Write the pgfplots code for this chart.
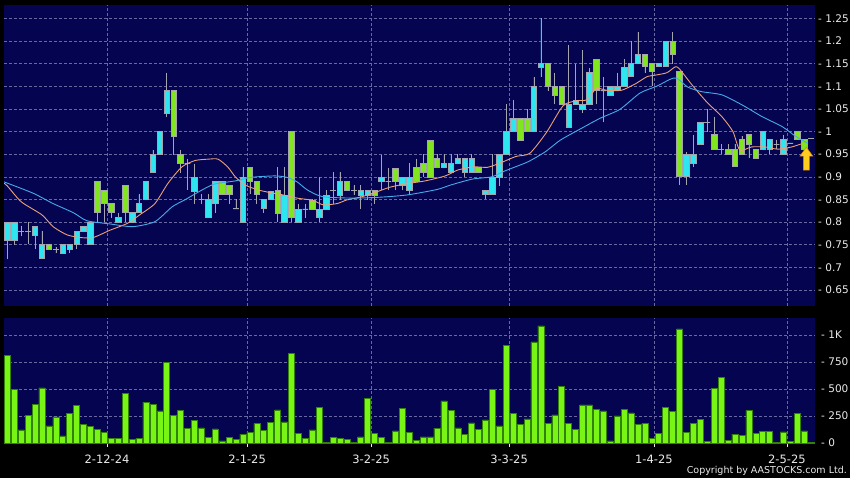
\documentclass[border=0pt]{standalone}
\usepackage{pgfplots}
\pgfplotsset{compat=1.18}
\usepackage{pgfplotstable}
\usepgfplotslibrary{statistics}
\usepackage{fontspec}
\setmainfont{DejaVu Sans}

\definecolor{navy}{RGB}{4,4,80}
\definecolor{gridc}{RGB}{105,105,160}
\definecolor{candleup}{RGB}{45,230,240}
\definecolor{candledown}{RGB}{130,230,30}
\definecolor{wickc}{RGB}{165,165,175}
\definecolor{volc}{RGB}{120,245,20}
\definecolor{voledge}{RGB}{50,130,10}
\definecolor{maorange}{RGB}{235,160,120}
\definecolor{mablue}{RGB}{70,170,235}
\definecolor{arrowfill}{RGB}{255,205,30}
\definecolor{arrowedge}{RGB}{215,135,0}
\definecolor{lbl}{RGB}{235,235,235}

\pgfdeclareplotmark{uparrow}{%
  \pgfpathmoveto{\pgfqpoint{0bp}{11.5bp}}%
  \pgfpathlineto{\pgfqpoint{6.5bp}{2.5bp}}%
  \pgfpathlineto{\pgfqpoint{3bp}{2.5bp}}%
  \pgfpathlineto{\pgfqpoint{3bp}{-11.5bp}}%
  \pgfpathlineto{\pgfqpoint{-3bp}{-11.5bp}}%
  \pgfpathlineto{\pgfqpoint{-3bp}{2.5bp}}%
  \pgfpathlineto{\pgfqpoint{-6.5bp}{2.5bp}}%
  \pgfpathclose
  \pgfusepathqfillstroke
}

\pgfplotstableread{
i o h l c v
0 0.760 0.800 0.718 0.800 811
1 0.760 0.800 0.750 0.800 499
2 0.780 0.792 0.770 0.780 122
3 0.780 0.800 0.751 0.780 257
4 0.771 0.791 0.740 0.791 361
5 0.721 0.780 0.721 0.751 511
6 0.751 0.751 0.740 0.740 159
7 0.740 0.746 0.731 0.740 242
8 0.731 0.751 0.731 0.751 67
9 0.740 0.751 0.731 0.751 272
10 0.751 0.780 0.740 0.780 346
11 0.780 0.790 0.780 0.790 171
12 0.751 0.800 0.751 0.800 153
13 0.890 0.890 0.800 0.821 129
14 0.870 0.870 0.800 0.841 101
15 0.841 0.841 0.810 0.821 46
16 0.800 0.821 0.800 0.810 40
17 0.881 0.881 0.800 0.821 462
18 0.800 0.821 0.800 0.821 34
19 0.821 0.861 0.821 0.841 43
20 0.850 0.890 0.850 0.890 379
21 0.909 0.960 0.909 0.949 358
22 0.949 1.002 0.949 1.000 297
23 1.040 1.130 1.031 1.090 744
24 1.090 1.090 0.949 0.990 254
25 0.949 0.960 0.909 0.929 303
26 0.930 0.940 0.871 0.930 138
27 0.869 0.929 0.841 0.900 208
28 0.850 0.861 0.841 0.850 141
29 0.810 0.861 0.810 0.850 55
30 0.841 0.890 0.821 0.890 132
31 0.890 0.890 0.861 0.861 21
32 0.881 0.881 0.841 0.861 52
33 0.830 0.850 0.830 0.830 31
34 0.800 0.921 0.800 0.900 83
35 0.921 0.921 0.861 0.890 98
36 0.890 0.890 0.841 0.861 181
37 0.830 0.850 0.821 0.850 119
38 0.850 0.869 0.850 0.869 193
39 0.870 0.921 0.800 0.820 306
40 0.800 0.921 0.800 0.860 196
41 1.000 1.000 0.800 0.810 832
42 0.800 0.840 0.800 0.829 86
43 0.829 0.840 0.810 0.829 43
44 0.849 0.850 0.829 0.829 122
45 0.810 0.900 0.800 0.829 330
46 0.829 0.870 0.829 0.860 3
47 0.870 0.910 0.840 0.870 55
48 0.860 0.910 0.849 0.890 40
49 0.890 0.890 0.870 0.870 34
50 0.870 0.881 0.860 0.870 9
51 0.860 0.881 0.829 0.870 58
52 0.860 0.870 0.849 0.870 413
53 0.870 0.870 0.840 0.860 86
54 0.890 0.949 0.870 0.899 49
55 0.890 0.920 0.870 0.890 6
56 0.919 0.919 0.870 0.890 113
57 0.881 0.899 0.870 0.899 321
58 0.871 0.930 0.860 0.900 98
59 0.921 0.940 0.890 0.890 24
60 0.930 0.950 0.900 0.910 58
61 0.981 0.981 0.900 0.900 58
62 0.940 0.950 0.921 0.921 138
63 0.921 0.950 0.921 0.930 389
64 0.910 0.950 0.910 0.930 303
65 0.930 0.950 0.930 0.940 141
66 0.910 0.940 0.900 0.940 80
67 0.910 0.950 0.910 0.940 187
68 0.920 0.920 0.910 0.910 129
69 0.861 0.871 0.850 0.871 214
70 0.861 0.950 0.861 0.900 499
71 0.900 0.950 0.880 0.950 159
72 0.950 1.060 0.950 1.000 903
73 1.000 1.070 1.000 1.030 272
74 1.030 1.030 0.980 0.980 171
75 1.030 1.050 1.000 1.000 223
76 1.000 1.120 1.000 1.100 936
77 1.141 1.250 1.120 1.151 1083
78 1.151 1.151 1.090 1.100 181
79 1.100 1.130 1.060 1.080 260
80 1.100 1.100 1.060 1.060 526
81 1.010 1.190 1.010 1.060 184
82 1.060 1.150 1.060 1.070 129
83 1.050 1.180 1.040 1.060 352
84 1.060 1.140 1.060 1.130 352
85 1.160 1.160 1.060 1.090 309
86 1.090 1.120 1.020 1.090 297
87 1.080 1.100 1.080 1.100 21
88 1.090 1.130 1.090 1.100 251
89 1.100 1.160 1.100 1.141 312
90 1.123 1.200 1.123 1.151 278
91 1.151 1.220 1.151 1.170 174
92 1.170 1.170 1.130 1.143 184
93 1.151 1.151 1.100 1.132 43
94 1.143 1.151 1.143 1.151 92
95 1.143 1.200 1.143 1.200 330
96 1.200 1.220 1.150 1.170 291
97 1.132 1.132 0.882 0.902 1056
98 0.902 0.955 0.882 0.950 101
99 0.930 0.993 0.921 0.950 181
100 0.972 1.020 0.972 1.020 220
101 1.020 1.050 1.000 1.020 15
102 0.993 1.033 0.961 0.961 505
103 0.961 0.972 0.950 0.961 609
104 0.961 0.972 0.950 0.950 24
105 0.961 0.972 0.923 0.923 83
106 0.982 0.990 0.950 0.950 70
107 0.993 0.993 0.941 0.972 303
108 0.961 0.961 0.941 0.941 89
109 0.961 1.000 0.961 1.000 110
110 0.961 0.982 0.950 0.982 110
111 0.972 0.982 0.961 0.972 9
112 0.950 0.993 0.950 0.982 104
113 0.975 0.975 0.975 0.975 18
114 1.000 1.000 0.982 0.982 272
115 0.982 0.982 0.961 0.961 113
116 0.985 0.985 0.985 0.985 6
}\ohlc

\begin{document}
\begin{tikzpicture}[x=1bp,y=1bp]
\fill[black] (0,0) rectangle (850,478);

\begin{axis}[
  at={(4bp,172bp)}, anchor=south west, scale only axis,
  width=811bp, height=301bp,
  xmin=-0.476, xmax=116.55, ymin=0.6148, ymax=1.2794,
  axis background/.style={fill=navy},
  axis line style={draw=none},
  boxplot/draw direction=y,
  ytick={0.65,0.7,0.75,0.8,0.85,0.9,0.95,1,1.05,1.1,1.15,1.2,1.25},
  yticklabels={- 0.65,- 0.7,- 0.75,- 0.8,- 0.85,- 0.9,- 0.95,- 1,- 1.05,- 1.1,- 1.15,- 1.2,- 1.25},
  ytick pos=right, yticklabel pos=right,
  yticklabel style={anchor=west, inner sep=0pt, xshift=3bp, text=lbl, font=\fontsize{10.5bp}{12bp}\selectfont},
  xtick={14.4,34.6,52.5,72.4,93.3,112.5}, xticklabels={},
  major tick length=0pt, tick style={draw=none},
  xmajorgrids, ymajorgrids,
  grid style={gridc, line width=0.6bp, dash pattern=on 2.5bp off 2.5bp},
]
\pgfplotsinvokeforeach{0,...,116}{
  \pgfplotstablegetelem{#1}{o}\of\ohlc \let\vo\pgfplotsretval
  \pgfplotstablegetelem{#1}{h}\of\ohlc \let\vh\pgfplotsretval
  \pgfplotstablegetelem{#1}{l}\of\ohlc \let\vl\pgfplotsretval
  \pgfplotstablegetelem{#1}{c}\of\ohlc \let\vc\pgfplotsretval
  \pgfmathsetmacro{\lo}{min(\vo,\vc)}
  \pgfmathsetmacro{\hi}{max(\vo,\vc)}
  \pgfmathsetmacro{\up}{\vc>=\vo ? 1 : 0}
  \ifdim\up pt>0.5pt \def\candlecol{candleup}\else\def\candlecol{candledown}\fi
  \edef\temp{\noexpand\addplot[boxplot prepared={draw position=#1, lower whisker=\vl, lower quartile=\lo, median=\lo, upper quartile=\hi, upper whisker=\vh, box extend=0.8, whisker extend=0}, fill=\candlecol, draw=wickc, line width=0.6bp] coordinates {};}
  \temp
}
\addplot[maorange, line width=0.9bp, smooth, tension=0.4] coordinates {
(-0.5,0.886) (0,0.880) (2,0.845) (5,0.816) (6.6,0.790) (8.6,0.772) (10.5,0.766) (12.4,0.766) (14.8,0.782) (17.3,0.797) (19.1,0.816) (21.3,0.841) (23.2,0.886) (25.2,0.922) (27.1,0.936) (29,0.939) (30.4,0.939) (31.8,0.922) (32.9,0.900) (34.3,0.882) (36.2,0.871) (38,0.865) (39.8,0.860) (41.8,0.853) (44.1,0.848) (45.6,0.838) (47.6,0.841) (49,0.849) (50.9,0.855) (52.8,0.864) (55.2,0.877) (57.7,0.885) (60.3,0.891) (63.2,0.902) (65,0.915) (67.3,0.922) (69.3,0.921) (71.2,0.931) (73.4,0.945) (75.4,0.952) (77.8,0.998) (80.2,1.057) (82.2,1.068) (83.6,1.070) (85,1.095) (86.5,1.091) (88.6,1.091) (90.6,1.105) (92.3,1.121) (93.7,1.125) (95.2,1.130) (96.4,1.143) (97,1.138) (98.8,1.103) (101,1.064) (103.1,1.033) (104.7,1.000) (105.7,0.959) (107.4,0.966) (109.3,0.966) (111.2,0.961) (113.2,0.966) (115,0.975)
};
\addplot[mablue, line width=0.9bp, smooth, tension=0.4] coordinates {
(-0.5,0.889) (3.7,0.864) (6.6,0.841) (9.5,0.821) (11.5,0.803) (14.8,0.796) (18.1,0.790) (21.3,0.801) (23.8,0.834) (25.6,0.849) (28.1,0.871) (29.9,0.884) (32.9,0.891) (35.3,0.899) (38.6,0.902) (40.3,0.899) (41.8,0.889) (43.2,0.872) (44.7,0.860) (46.1,0.855) (49.9,0.853) (53.8,0.855) (57.7,0.860) (62,0.872) (64,0.882) (67.1,0.895) (69.9,0.900) (71.8,0.913) (75.1,0.933) (77.6,0.955) (79.8,0.981) (82.6,1.005) (85.5,1.029) (88.4,1.049) (91.3,1.085) (93.7,1.100) (95.6,1.115) (96.6,1.118) (98.2,1.098) (100.2,1.088) (103.1,1.081) (106,1.059) (108.9,1.033) (111.8,1.011) (113.7,0.990) (115.5,0.974)
};
\addplot[only marks, mark=uparrow, mark options={fill=arrowfill, draw=arrowedge, line width=0.5bp}] coordinates {(115.3,0.940)};
\end{axis}

\begin{axis}[
  at={(4bp,34bp)}, anchor=south west, scale only axis,
  width=811bp, height=126bp,
  xmin=-0.476, xmax=116.55, ymin=-9, ymax=1157,
  axis background/.style={fill=navy},
  axis line style={draw=none},
  ytick={250,500,750,1000}, yticklabels={- 250,- 500,- 750,- 1K},
  extra y ticks={0}, extra y tick labels={- 0}, extra y tick style={grid=none},
  ytick pos=right, yticklabel pos=right,
  yticklabel style={anchor=west, inner sep=0pt, xshift=3bp, text=lbl, font=\fontsize{10.5bp}{12bp}\selectfont},
  xtick={14.4,34.6,52.5,72.4,93.3,112.5},
  xticklabels={2-12-24,2-1-25,3-2-25,3-3-25,1-4-25,2-5-25},
  xtick pos=bottom, tick align=outside, major tick length=3bp,
  xtick style={draw=lbl, line width=0.6bp}, ytick style={draw=none},
  xticklabel style={text=lbl, yshift=-4bp, font=\fontsize{11.5bp}{12bp}\selectfont},
  xmajorgrids, ymajorgrids,
  grid style={gridc, line width=0.6bp, dash pattern=on 2.5bp off 2.5bp},
]
\addplot[ybar, bar width=6bp, fill=volc, draw=voledge, line width=0.5bp] table[x=i, y=v] {\ohlc};
\end{axis}

\node[anchor=east, text=lbl, inner sep=0pt, font=\fontsize{9.5bp}{11bp}\selectfont] at (847,7) {Copyright by AASTOCKS.com Ltd.};
\end{tikzpicture}
\end{document}
